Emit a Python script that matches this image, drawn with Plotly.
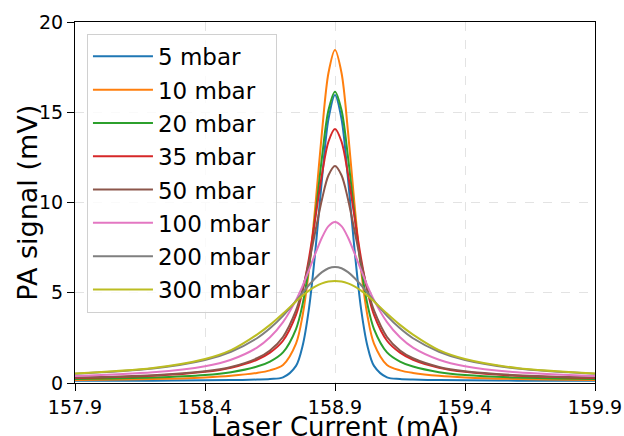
import plotly.graph_objects as go

# Laser current (mA)
current = [157.9, 158.2, 158.4, 158.5, 158.6, 158.65, 158.7, 158.75, 158.775, 158.8, 158.825, 158.85, 158.875,
           158.9,
           158.925, 158.95, 158.975, 159.0, 159.025, 159.05, 159.1, 159.15, 159.2, 159.3, 159.4, 159.6, 159.9]

labels = ["5 mbar", "10 mbar", "20 mbar", "35 mbar", "50 mbar", "100 mbar", "200 mbar", "300 mbar"]
colors = ["#1f77b4", "#ff7f0e", "#2ca02c", "#d62728", "#8c564b", "#e377c2", "#7f7f7f", "#bcbd22"]

# PA signal (mV)
p5 = [0.13, 0.13, 0.15, 0.16, 0.19, 0.22, 0.31, 0.95, 2.04, 4.14, 7.40, 11.32, 14.64,
      15.96,
      14.64, 11.32, 7.40, 4.14, 2.04, 0.95, 0.31, 0.22, 0.19, 0.16, 0.15, 0.13, 0.13]
p10 = [0.17, 0.22, 0.31, 0.40, 0.56, 0.70, 1.00, 2.18, 3.71, 6.29, 9.90, 13.93, 17.19,
       18.45,
       17.19, 13.93, 9.90, 6.29, 3.71, 2.18, 1.00, 0.70, 0.56, 0.40, 0.31, 0.22, 0.17]
p20 = [0.22, 0.30, 0.44, 0.60, 0.91, 1.19, 1.70, 2.99, 4.34, 6.46, 9.34, 12.52, 15.12,
       16.14,
       15.12, 12.52, 9.34, 6.46, 4.34, 2.99, 1.70, 1.19, 0.91, 0.60, 0.44, 0.30, 0.22]
p35 = [0.28, 0.40, 0.62, 0.85, 1.29, 1.68, 2.34, 3.77, 5.08, 6.92, 9.20, 11.56, 13.38,
       14.07,
       13.38, 11.56, 9.20, 6.92, 5.08, 3.77, 2.34, 1.68, 1.29, 0.85, 0.62, 0.40, 0.28]
p50 = [0.30, 0.43, 0.65, 0.89, 1.37, 1.80, 2.55, 4.02, 5.19, 6.69, 8.44, 10.18, 11.51,
       12.02,
       11.51, 10.18, 8.44, 6.69, 5.19, 4.02, 2.55, 1.80, 1.37, 0.89, 0.65, 0.43, 0.30]
p100 = [0.39, 0.59, 0.93, 1.29, 1.96, 2.53, 3.37, 4.59, 5.37, 6.26, 7.19, 8.06, 8.69,
        8.92,
        8.69, 8.06, 7.19, 6.26, 5.37, 4.59, 3.37, 2.53, 1.96, 1.29, 0.93, 0.59, 0.39]
p200 = [0.51, 0.80, 1.27, 1.73, 2.48, 3.03, 3.72, 4.55, 4.99, 5.43, 5.82, 6.14, 6.36,
        6.43,
        6.36, 6.14, 5.82, 5.43, 4.99, 4.55, 3.72, 3.03, 2.48, 1.73, 1.27, 0.80, 0.51]
p300 = [0.53, 0.83, 1.33, 1.82, 2.68, 3.22, 3.85, 4.52, 4.84, 5.12, 5.35, 5.52, 5.62,
        5.65,
        5.62, 5.52, 5.35, 5.12, 4.84, 4.52, 3.85, 3.22, 2.68, 1.82, 1.33, 0.83, 0.53]

series = [p5, p10, p20, p35, p50, p100, p200, p300]

x_ticks = [157.9, 158.4, 158.9, 159.4, 159.9]
y_ticks = [0, 5, 10, 15, 20]

fig = go.Figure()
for name, col, ys in zip(labels, colors, series):
    fig.add_trace(go.Scatter(
        x=current, y=ys, mode="lines", name=name, legendgroup=name,
        line=dict(color=col, width=2, shape="spline", smoothing=0.9),
    ))

axis_common = dict(
    showline=True, linecolor="black", linewidth=1.2, mirror=True,
    ticks="outside", ticklen=7, tickwidth=1.2, tickcolor="black",
    showgrid=True, gridcolor="#e3e3e3", griddash="dash", gridwidth=1,
    zeroline=False, tickfont=dict(size=19, color="black"), automargin=False,
)

fig.update_layout(
    width=624, height=436,
    margin=dict(l=75, r=29, t=22, b=53),
    paper_bgcolor="white", plot_bgcolor="white",
    font=dict(family="DejaVu Sans", color="black"),
    showlegend=True,
    legend=dict(
        x=0.023, y=0.967, xanchor="left", yanchor="top",
        font=dict(size=23, color="black"),
        bgcolor="rgba(255,255,255,0.8)", bordercolor="#d0d0d0", borderwidth=1,
        tracegroupgap=0.4, traceorder="grouped", itemwidth=60,
    ),
    annotations=[
        dict(text="PA signal (mV)", xref="paper", yref="paper",
             x=-0.092, y=0.5, xanchor="center", yanchor="middle",
             textangle=-90, showarrow=False, font=dict(size=27, color="black")),
        dict(text="Laser Current (mA)", xref="paper", yref="paper",
             x=0.5, y=-0.122, xanchor="center", yanchor="middle",
             showarrow=False, font=dict(size=26, color="black")),
    ],
)
fig.update_xaxes(
    range=[157.9, 159.9], tickvals=x_ticks, ticktext=[f"{v:.1f}" for v in x_ticks],
    **axis_common,
)
fig.update_yaxes(
    range=[0, 20], tickvals=y_ticks, ticktext=[str(v) for v in y_ticks],
    **axis_common,
)

fig.write_html(
    "out.html",
    config={"displayModeBar": False},
    post_script="document.body.style.margin='0';document.body.style.overflow='hidden';",
)
